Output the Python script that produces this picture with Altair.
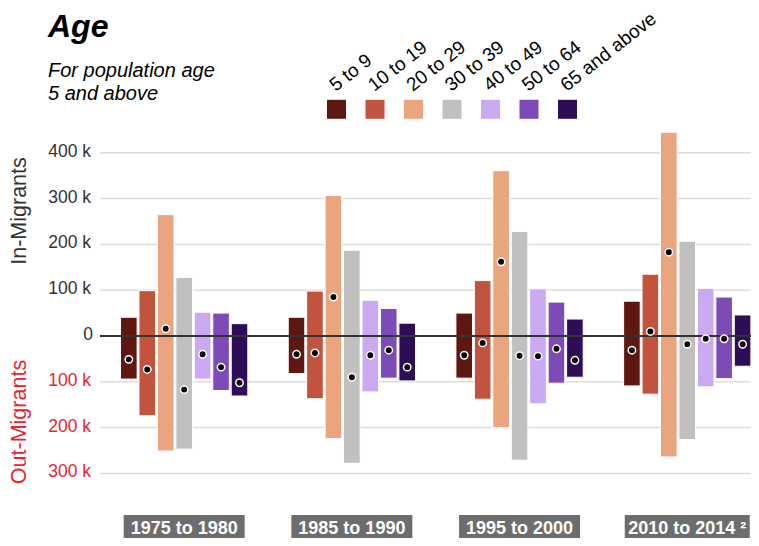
import altair as alt
import pandas as pd

FONT = "Liberation Sans"

periods = ["1975 to 1980", "1985 to 1990", "1995 to 2000", "2010 to 2014"]
period_labels = ["1975 to 1980", "1985 to 1990", "1995 to 2000", "2010 to 2014 ²"]
ages = ["5 to 9", "10 to 19", "20 to 29", "30 to 39", "40 to 49", "50 to 64", "65 and above"]
colors = ["#5e1811", "#c1533f", "#eaa57e", "#c0c0be", "#cba9f0", "#7c4bb7", "#2d0c58"]

# values in thousands
in_k = [
    [41, 99, 265, 128, 52, 50, 27],
    [41, 98, 307, 187, 78, 60, 28],
    [50, 121, 361, 228, 103, 74, 37],
    [76, 135, 445, 207, 104, 85, 46],
]
out_k = [
    [94, 174, 251, 247, 94, 119, 131],
    [82, 137, 224, 278, 122, 92, 98],
    [92, 138, 200, 271, 148, 103, 90],
    [109, 127, 264, 226, 111, 93, 66],
]
net_k = [
    [-51, -73, 16, -117, -40, -68, -102],
    [-40, -37, 85, -90, -42, -31, -68],
    [-42, -15, 162, -43, -44, -28, -53],
    [-31, 10, 183, -18, -6, -6, -18],
]
grid_ticks = [-300, -200, -100, 100, 200, 300, 400]

rows = []
for pi, p in enumerate(periods):
    for ai, a in enumerate(ages):
        rows.append(dict(period=p, age=a, inm=in_k[pi][ai], outm=-out_k[pi][ai], net=net_k[pi][ai]))
df = pd.DataFrame(rows)

ticks_df = pd.DataFrame({
    "v": grid_ticks,
    "lab": [f"{abs(t)} k" for t in grid_ticks],
    "col": ["#e52531" if t < 0 else "#333333" for t in grid_ticks],
})
periods_df = pd.DataFrame({"period": periods, "label": period_labels})
legend_df = pd.DataFrame({"age": ages, "i": list(range(len(ages)))})

W, H = 651, 418
yscale = alt.Scale(domain=[-441.0, 471.6], nice=False, zero=False)
xscale = alt.Scale(domain=periods, paddingInner=0.241, paddingOuter=0.0615, align=0.995)
xoff = alt.Scale(domain=ages, paddingInner=0.1, paddingOuter=0)
cscale = alt.Scale(domain=ages, range=colors)

X = alt.X("period:N", scale=xscale, axis=None, sort=periods)
XO = alt.XOffset("age:N", scale=xoff, sort=ages)

grid = alt.Chart(ticks_df).mark_rule(color="#dddddd", strokeWidth=1.5).encode(
    y=alt.Y("v:Q", scale=yscale, axis=None)
)

bars = alt.Chart(df).mark_bar(stroke="white", strokeWidth=1).encode(
    x=X,
    xOffset=XO,
    y=alt.Y("inm:Q", scale=yscale, axis=None),
    y2="outm:Q",
    color=alt.Color("age:N", scale=cscale, legend=None, sort=ages),
)

zero = alt.Chart(pd.DataFrame({"v": [0]})).mark_rule(color="#333333", strokeWidth=2).encode(
    y=alt.Y("v:Q", scale=yscale, axis=None)
)

dots = alt.Chart(df).mark_circle(size=55, color="black", stroke="white", strokeWidth=1.5, opacity=1).encode(
    x=X,
    xOffset=XO,
    y=alt.Y("net:Q", scale=yscale, axis=None),
)

ylab = alt.Chart(ticks_df).mark_text(align="right", baseline="middle", fontSize=17.5, font=FONT, dy=-1).encode(
    y=alt.Y("v:Q", scale=yscale, axis=None),
    x=alt.value(-9),
    text="lab:N",
    color=alt.Color("col:N", scale=None),
)
ylab0 = alt.Chart(pd.DataFrame({"v": [0], "lab": ["0"]})).mark_text(
    align="right", baseline="middle", fontSize=17.5, font=FONT, color="#333333", dy=-1
).encode(y=alt.Y("v:Q", scale=yscale, axis=None), x=alt.value(-7), text="lab:N")

in_title = alt.Chart(pd.DataFrame({"t": ["In-Migrants"]})).mark_text(
    angle=270, align="center", baseline="middle", fontSize=21.5, font=FONT, color="#333333"
).encode(x=alt.value(-80), y=alt.value(91), text="t:N")
out_title = alt.Chart(pd.DataFrame({"t": ["Out-Migrants"]})).mark_text(
    angle=270, align="center", baseline="middle", fontSize=21.5, font=FONT, color="#e52531"
).encode(x=alt.value(-80), y=alt.value(302), text="t:N")

title = alt.Chart(pd.DataFrame({"t": ["Age"]})).mark_text(
    align="left", baseline="alphabetic", fontSize=32, fontWeight="bold", fontStyle="italic", font=FONT, color="black"
).encode(x=alt.value(-52), y=alt.value(-83.5), text="t:N")
subtitle = alt.Chart(pd.DataFrame({"t": ["For population age\n5 and above"]})).mark_text(
    align="left", baseline="alphabetic", fontSize=20, fontStyle="italic", font=FONT, color="black",
    lineBreak="\n", lineHeight=23,
).encode(x=alt.value(-52), y=alt.value(-42.7), text="t:N")

box_a = alt.Chart(periods_df.iloc[:3]).mark_bar(width=121, color="#6d6d6d").encode(
    x=X, y=alt.value(395), y2=alt.value(418)
)
box_b = alt.Chart(periods_df.iloc[3:]).mark_bar(width=125, color="#6d6d6d").encode(
    x=X, y=alt.value(395), y2=alt.value(418)
)
box_txt = alt.Chart(periods_df).mark_text(
    align="center", baseline="alphabetic", fontSize=18, fontWeight="bold", font=FONT, color="white"
).encode(x=X, y=alt.value(413.5), text="label:N")

LX = alt.X("i:Q", scale=alt.Scale(domain=[-6.1429, 10.766], nice=False, zero=False), axis=None)
leg_sq = alt.Chart(legend_df).mark_square(size=361, opacity=1).encode(
    x=LX, y=alt.value(-10.7), color=alt.Color("age:N", scale=cscale, legend=None, sort=ages)
)
leg_txt = alt.Chart(legend_df).mark_text(
    align="left", baseline="alphabetic", angle=322, fontSize=19, font=FONT, color="black", dx=-1
).encode(x=LX, y=alt.value(-28.5), text="age:N")

main = alt.layer(grid, bars, zero, dots, box_a, box_b, box_txt)
chart = alt.layer(
    main, ylab, ylab0, in_title, out_title, title, subtitle, leg_sq, leg_txt
).resolve_scale(x="independent").properties(
    width=W, height=H,
    autosize=alt.AutoSizeParams(type="none"),
    padding={"left": 92, "top": 112, "right": 0, "bottom": 0},
    background="white",
).configure_view(strokeWidth=0)

chart.save("out.html", embed_options={"renderer": "svg", "actions": False})
